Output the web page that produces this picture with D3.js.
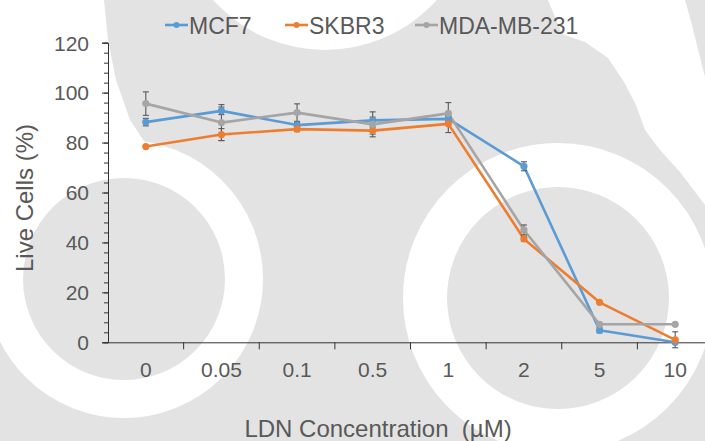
<!DOCTYPE html>
<html>
<head>
<meta charset="utf-8">
<script src="https://cdn.jsdelivr.net/npm/d3@7"></script>
<style>
  body { margin: 0; background: #fff; }
  svg { display: block; font-family: "Liberation Sans", Arial, sans-serif; }
</style>
</head>
<body>
<script>
// concentrations (categories on the x axis)
var concentraciones = ["0", "0.05", "0.1", "0.5", "1", "2", "5", "10"];

// live cells (%) per cell line
var mcf7  = [88.2, 92.7, 87.0, 88.9, 89.5, 70.5, 4.8, 0.0];
var skbr3 = [78.4, 83.2, 85.4, 84.8, 87.5, 41.4, 16.0, 1.0];
var mda   = [95.6, 88.0, 92.0, 87.3, 91.7, 45.0, 7.2, 7.2];

// standard error bars
var mcf7Err  = [1.5, 1.5, 1.0, 1.3, 1.0, 1.8, 1.0, 0.5];
var skbr3Err = [0.5, 2.4, 1.0, 1.4, 3.5, 1.0, 0.5, 3.2];
var mdaErr   = [4.7, 7.2, 3.5, 5.0, 4.3, 2.0, 0.5, 0.5];

var yTicks = [0, 20, 40, 60, 80, 100, 120];

var series = [
  {nombre: "MCF7",       valores: mcf7,  err: mcf7Err,  color: "#5b9bd5"},
  {nombre: "SKBR3",      valores: skbr3, err: skbr3Err, color: "#ed7d31"},
  {nombre: "MDA-MB-231", valores: mda,   err: mdaErr,   color: "#a5a5a5"}
];

var width = 705, height = 441;
var svg = d3.select("body").append("svg")
  .attr("width", width)
  .attr("height", height);

// background watermark (gray shapes with white rings)
var fondo = svg.append("g");
fondo.append("rect").attr("width", width).attr("height", height).attr("fill", "#e3e3e3");
fondo.append("path")
  .attr("d", "M0,0 L104,0 L108,40 L116,80 L130,120 L150,150 L160,170 L60,180 L0,230 Z")
  .attr("fill", "#fff");
fondo.append("path")
  .attr("d", "M548,0 L685,0 L692,25 L705,77 L705,205 L680,172 L660,150 L645,130 L636,105 L624,82 L608,58 L585,42 L562,34 Z")
  .attr("fill", "#fff");
fondo.append("circle").attr("cx", 325).attr("cy", -100).attr("r", 150).attr("fill", "#fff");
fondo.append("circle").attr("cx", 124).attr("cy", 279).attr("r", 120)
  .attr("fill", "none").attr("stroke", "#fff").attr("stroke-width", 38);
fondo.append("circle").attr("cx", 558).attr("cy", 298).attr("r", 133)
  .attr("fill", "none").attr("stroke", "#fff").attr("stroke-width", 44);

// scales
var x = d3.scaleBand().domain(concentraciones).range([108, 713]).padding(0);
var y = d3.scaleLinear().domain([0, 120]).range([342.3, 42.7]);
var cx = function(i) { return x(concentraciones[i]) + x.bandwidth() / 2; };

// y axis with minor ticks
svg.append("g")
  .attr("transform", "translate(108,0)")
  .call(d3.axisLeft(y).tickValues(d3.range(0, 121, 4)).tickSize(4).tickFormat(""))
  .call(function(g) { g.selectAll("line").attr("stroke", "#333"); g.select(".domain").remove(); });

var ejeY = svg.append("g")
  .attr("transform", "translate(108,0)")
  .call(d3.axisLeft(y).tickValues(yTicks).tickSize(6).tickPadding(13));
ejeY.select(".domain").attr("stroke", "#333");
ejeY.selectAll("line").attr("stroke", "#333");
ejeY.selectAll("text").attr("fill", "#595959").style("font-size", "21px").attr("dy", "0.35em");

// x axis
var ejeX = svg.append("g")
  .attr("transform", "translate(0,342.3)")
  .call(d3.axisBottom(x).tickSize(0).tickPadding(20));
ejeX.select(".domain").attr("stroke", "#333").attr("d", "M108,0.5H713");
ejeX.selectAll("text").attr("fill", "#595959").style("font-size", "21px");
ejeX.selectAll(".limite")
  .data(concentraciones.slice(1))
  .enter().append("line")
  .attr("class", "limite")
  .attr("x1", function(d) { return x(d); })
  .attr("x2", function(d) { return x(d); })
  .attr("y1", 0).attr("y2", 7)
  .attr("stroke", "#333");

// lines
var linea = d3.line()
  .x(function(d, i) { return cx(i); })
  .y(function(d) { return y(d); });

series.forEach(function(s) {
  svg.append("path")
    .datum(s.valores)
    .attr("fill", "none")
    .attr("stroke", s.color)
    .attr("stroke-width", 2.6)
    .attr("stroke-linejoin", "round")
    .attr("d", linea);
});

// error bars
series.forEach(function(s) {
  var g = svg.append("g").attr("stroke", "#595959").attr("stroke-width", 1.1);
  s.valores.forEach(function(v, i) {
    var e = s.err[i];
    if (e < 0.8) return;
    var xc = cx(i);
    g.append("line").attr("x1", xc).attr("x2", xc).attr("y1", y(v + e)).attr("y2", y(v - e));
    g.append("line").attr("x1", xc - 3).attr("x2", xc + 3).attr("y1", y(v + e)).attr("y2", y(v + e));
    g.append("line").attr("x1", xc - 3).attr("x2", xc + 3).attr("y1", y(v - e)).attr("y2", y(v - e));
  });
});

// markers
series.forEach(function(s) {
  svg.append("g").selectAll("circle")
    .data(s.valores)
    .enter().append("circle")
    .attr("cx", function(d, i) { return cx(i); })
    .attr("cy", function(d) { return y(d); })
    .attr("r", 3.6)
    .attr("fill", s.color);
});

// legend
var leyendaX = [165, 285, 415];
series.forEach(function(s, i) {
  var g = svg.append("g").attr("transform", "translate(" + leyendaX[i] + ",25)");
  g.append("line").attr("x1", 0).attr("x2", 23).attr("y1", 0).attr("y2", 0)
    .attr("stroke", s.color).attr("stroke-width", 2.6);
  g.append("circle").attr("cx", 11.5).attr("cy", 0).attr("r", 3).attr("fill", s.color);
  g.append("text").attr("x", 24).attr("y", 8.5)
    .attr("fill", "#595959").style("font-size", "23px").text(s.nombre);
});

// axis titles
svg.append("text")
  .attr("transform", "translate(33,198) rotate(-90)")
  .attr("text-anchor", "middle")
  .attr("fill", "#595959").style("font-size", "24px")
  .text("Live Cells (%)");

svg.append("text")
  .attr("x", 378).attr("y", 437)
  .attr("text-anchor", "middle")
  .attr("fill", "#595959").style("font-size", "24px")
  .attr("xml:space", "preserve")
  .style("white-space", "pre")
  .text("LDN Concentration  (µM)");
</script>
</body>
</html>
